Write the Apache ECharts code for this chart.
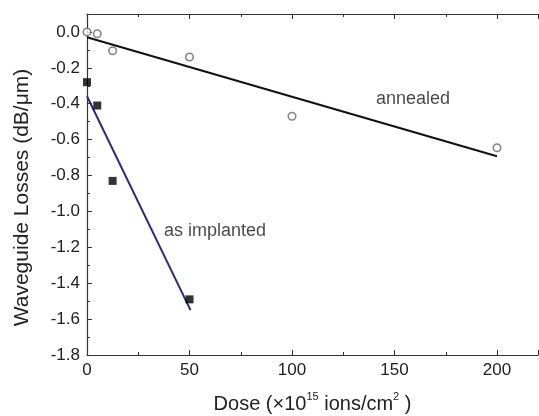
<!DOCTYPE html>
<html>
<head>
<meta charset="utf-8">
<script src="https://cdn.jsdelivr.net/npm/echarts@6/dist/echarts.min.js"></script>
<style>
  html, body { margin: 0; padding: 0; background: #fff; }
  #chart { width: 539px; height: 416px; }
</style>
</head>
<body>
<div id="chart"></div>
<script>
// measured points
const annealedDose = [0, 5, 12.5, 50, 100, 200];
const annealedLoss = [0.0, -0.01, -0.105, -0.14, -0.47, -0.645];
const implantedDose = [0, 5, 12.5, 50];
const implantedLoss = [-0.28, -0.41, -0.83, -1.49];
// linear fits (end points)
const annealedFitDose = [0, 200];
const annealedFitLoss = [-0.03, -0.693];
const implantedFitDose = [0, 50.5];
const implantedFitLoss = [-0.358, -1.55];
// text annotations
const noteText = ['annealed', 'as implanted'];
const noteDose = [159, 62.4];
const noteLoss = [-0.375, -1.11];

const zip = (a, b) => a.map((v, i) => [v, b[i]]);

const chart = echarts.init(document.getElementById('chart'));
const font = 'Liberation Sans, Arial, sans-serif';
const axisCommon = {
  axisLine: { show: true, onZero: false, lineStyle: { color: '#333', width: 1.2 } },
  axisTick: { show: true, inside: true, length: 5, lineStyle: { color: '#333' } },
  minorTick: { show: true, splitNumber: 2, length: 3, lineStyle: { color: '#333' } },
  splitLine: { show: false }
};

const option = {
  animation: false,
  grid: { left: 87, top: 14, right: 1, bottom: 61, outerBoundsMode: 'none', containLabel: false },
  xAxis: [
    Object.assign({
      type: 'value', min: 0, max: 220, interval: 50, position: 'bottom',
      axisLabel: { showMaxLabel: false, color: '#222', fontSize: 17, fontFamily: font, margin: 7 },
      name: 'Dose (\u00d710{s|15} ions/cm{s|2} )',
      nameLocation: 'middle', nameGap: 36,
      nameTextStyle: {
        color: '#222', fontSize: 20, fontFamily: font, lineHeight: 26,
        rich: { s: { fontSize: 11, lineHeight: 12, verticalAlign: 'top', fontFamily: font, color: '#222' } }
      }
    }, axisCommon),
    Object.assign({
      type: 'value', min: 0, max: 220, interval: 50, position: 'top',
      axisLabel: { show: false }
    }, axisCommon)
  ],
  yAxis: Object.assign({
    type: 'value', min: -1.8, max: 0.1, interval: 0.2,
    axisLabel: {
      showMaxLabel: false, color: '#222', fontSize: 17, fontFamily: font, margin: 7,
      formatter: v => (Math.abs(v) < 1e-9 ? 0 : v).toFixed(1)
    },
    name: 'Waveguide Losses (dB/\u03bcm)',
    nameLocation: 'middle', nameGap: 54, nameRotate: 90,
    nameTextStyle: { color: '#222', fontSize: 21, fontFamily: font, padding: [0, 26, 0, 0] }
  }, axisCommon),
  series: [
    {
      type: 'line', data: zip(annealedFitDose, annealedFitLoss),
      symbol: 'none', lineStyle: { color: '#111', width: 2 }, z: 2
    },
    {
      type: 'line', data: zip(implantedFitDose, implantedFitLoss),
      symbol: 'none', lineStyle: { color: '#2b2b7a', width: 2 }, z: 2
    },
    {
      type: 'scatter', data: zip(annealedDose, annealedLoss),
      symbol: 'circle', symbolSize: 7.5,
      itemStyle: { color: '#fff', borderColor: '#666', borderWidth: 1.6 }, z: 3
    },
    {
      type: 'scatter', data: zip(implantedDose, implantedLoss),
      symbol: 'rect', symbolSize: 8,
      itemStyle: { color: '#000' }, z: 3
    },
    {
      type: 'scatter', data: noteText.map((t, i) => ({ value: [noteDose[i], noteLoss[i]], name: t })),
      symbolSize: 0, silent: true,
      label: {
        show: true, position: 'inside', formatter: p => p.name,
        color: '#1a1a1a', fontSize: 18, fontFamily: font
      }
    }
  ]
};
chart.setOption(option);
window.addEventListener('resize', function () { chart.resize(); });
</script>
</body>
</html>
